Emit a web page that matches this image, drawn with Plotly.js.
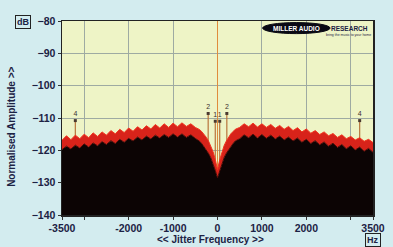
<!DOCTYPE html>
<html>
<head>
<meta charset="utf-8">
<script src="https://cdn.plot.ly/plotly-3.0.1.min.js"></script>
<style>html,body{margin:0;padding:0;background:#d3ecef;}#chart{width:393px;height:247px;}</style>
</head>
<body>
<div id="chart"></div>
<script>
// Jitter spectrum (frequency offset from carrier, Hz)
const freqHz = [-3500,-3400,-3300,-3200,-3100,-3000,-2900,-2800,-2700,-2600,-2500,-2400,-2300,-2200,-2100,-2000,-1900,-1800,-1700,-1600,-1500,-1400,-1300,-1200,-1100,-1000,-900,-800,-700,-600,-500,-400,-350,-300,-250,-200,-150,-100,-50,0,50,100,150,200,250,300,350,400,500,600,700,800,900,1000,1100,1200,1300,1400,1500,1600,1700,1800,1900,2000,2100,2200,2300,2400,2500,2600,2700,2800,2900,3000,3100,3200,3300,3400,3500];
// upper (red) edge of the noise floor, dB
const noisePeakDb = [-116.9,-115.5,-116.7,-115.3,-116.4,-115.0,-116.1,-114.6,-115.7,-114.3,-115.3,-113.9,-114.9,-113.5,-114.5,-113.1,-114.1,-112.7,-113.7,-112.4,-113.4,-112.0,-113.1,-111.8,-112.9,-111.6,-112.7,-111.5,-112.6,-111.8,-112.9,-113.6,
  -114.3,-115.0,-116.0,-117.2,-118.6,-120.4,-122.8,-126.0,-122.9,-120.5,-118.5,-117.1,-115.9,-114.9,-114.2,-113.5,
  -112.9,-111.8,-112.7,-111.6,-112.8,-111.8,-112.9,-112.0,-113.2,-112.3,-113.5,-112.6,-113.9,-113.0,-114.3,-113.4,-114.7,-113.9,-115.1,-114.3,-115.5,-114.8,-116.0,-115.2,-116.4,-115.7,-116.8,-116.1,-117.2,-116.6,-117.6];
// lower (black) body of the noise floor, dB
const noiseBodyDb = [-119.8,-118.7,-119.6,-118.4,-119.3,-118.0,-119.0,-117.7,-118.6,-117.3,-118.2,-117.0,-117.9,-116.6,-117.5,-116.3,-117.1,-115.9,-116.8,-115.6,-116.5,-115.3,-116.2,-115.1,-116.0,-114.9,-115.9,-114.9,-116.0,-115.2,-116.3,-117.2,
  -118.0,-118.9,-119.9,-121.0,-122.3,-124.0,-126.2,-128.5,-126.3,-124.1,-122.2,-120.9,-119.8,-118.8,-117.9,-117.1,
  -116.4,-115.2,-116.1,-115.0,-116.2,-115.1,-116.3,-115.3,-116.5,-115.6,-116.8,-115.9,-117.1,-116.2,-117.5,-116.6,-117.9,-117.0,-118.3,-117.4,-118.7,-117.8,-119.1,-118.2,-119.5,-118.6,-119.9,-119.0,-120.3,-119.4,-120.6];
// discrete jitter sidebands
const spikeHz = [-3200,-210,-50,50,210,3200];
const spikeDb = [-110.8,-108.6,-111.0,-111.0,-108.6,-110.8];
const spikeLabels = ['4','2','1','1','2','4'];
// axis ticks
const xTickVals = [-3500,-2000,-1000,0,1000,2000,3500];
const xTickText = ['-3500','-2000','-1000','0','1000','2000','3500'];
const yTickVals = [-140,-130,-120,-110,-100,-90,-80];

const Y_MIN = -140, Y_MAX = -80;
const navy = '#1c2244';
const fontFam = 'Liberation Sans, Arial, sans-serif';

const spX = [], spY = [];
spikeHz.forEach((f,i)=>{ spX.push(f,f,null); spY.push(Y_MIN, spikeDb[i], null); });

const traces = [
  {x: spX, y: spY, mode:'lines', line:{color:'#b8743c', width:1.2}, hoverinfo:'skip', showlegend:false},
  {x: freqHz, y: freqHz.map(()=>Y_MIN), mode:'lines', line:{width:0}, hoverinfo:'skip', showlegend:false},
  {x: freqHz, y: noiseBodyDb, mode:'lines', fill:'tonexty', fillcolor:'#0c0404', line:{color:'#4a0a06', width:1}, showlegend:false},
  {x: freqHz, y: noisePeakDb, mode:'lines', fill:'tonexty', fillcolor:'#d8231a', line:{color:'#f0341f', width:1}, showlegend:false},
  {x: spikeHz, y: spikeDb, mode:'markers+text', text: spikeLabels, textposition:'top center',
   textfont:{family:fontFam, size:7, color:'#3a3030'}, marker:{symbol:'square', size:3, color:'#4a3a30'}, showlegend:false, cliponaxis:false}
];

const layout = {
  width:393, height:247,
  margin:{l:62, r:20, t:21, b:32},
  paper_bgcolor:'#d3ecef',
  plot_bgcolor:'#eef4c6',
  font:{family:fontFam, color:navy},
  showlegend:false,
  xaxis:{
    range:[-3500,3500], tickmode:'array', tickvals:xTickVals, ticktext:xTickText,
    tickfont:{family:fontFam, size:10.5, color:navy, weight:'bold'},
    ticks:'outside', ticklen:3, tickcolor:'#333',
    showgrid:true, gridcolor:'#9eaaa2', gridwidth:1,
    minor:{tickvals:[-3000,3000], showgrid:true, gridcolor:'#9eaaa2', ticks:'outside', ticklen:3, tickcolor:'#333'},
    zeroline:true, zerolinecolor:'#e08c3c', zerolinewidth:1.2,
    showline:true, mirror:true, linecolor:'#222', linewidth:1.5
  },
  yaxis:{
    range:[Y_MIN,Y_MAX], tickmode:'array', tickvals:yTickVals,
    tickfont:{family:fontFam, size:10.5, color:navy, weight:'bold'},
    ticks:'outside', ticklen:3, tickcolor:'#333',
    showgrid:true, gridcolor:'#9eaaa2', gridwidth:1, zeroline:false,
    showline:true, mirror:true, linecolor:'#222', linewidth:1.5
  },
  shapes:[
    {type:'circle', xref:'paper', yref:'paper', x0:0.645, x1:0.862, y0:0.935, y1:0.992, fillcolor:'#0a0a14', line:{color:'#0a0a14', width:1}}
  ],
  annotations:[
    {xref:'paper', yref:'paper', x:0.476, y:-0.128, xanchor:'center', yanchor:'middle', text:'<< Jitter Frequency >>', showarrow:false, font:{family:fontFam, size:10, color:navy, weight:'bold'}},
    {xref:'paper', yref:'paper', x:-0.161, y:0.454, xanchor:'center', yanchor:'middle', textangle:-90, text:'Normalised Amplitude >>', showarrow:false, font:{family:fontFam, size:10, color:navy, weight:'bold'}},
    {xref:'paper', yref:'paper', x:0.753, y:0.963, xanchor:'center', yanchor:'middle', text:'MILLER AUDIO', showarrow:false, font:{family:fontFam, size:6.5, color:'#ffffff', weight:'bold'}},
    {xref:'paper', yref:'paper', x:0.925, y:0.963, xanchor:'center', yanchor:'middle', text:'RESEARCH', showarrow:false, font:{family:fontFam, size:6.5, color:navy, weight:'bold'}},
    {xref:'paper', yref:'paper', x:0.92, y:0.927, xanchor:'center', yanchor:'middle', text:'bring the music to your home', showarrow:false, font:{family:fontFam, size:3.5, color:navy}},
    {xref:'paper', yref:'paper', x:-0.125, y:0.995, xanchor:'center', yanchor:'middle', text:'dB', showarrow:false, bordercolor:'#222', borderwidth:1, borderpad:1, bgcolor:'#d3ecef', font:{family:fontFam, size:9, color:navy, weight:'bold'}},
    {xref:'paper', yref:'paper', x:1.0, y:-0.129, xanchor:'center', yanchor:'middle', text:'Hz', showarrow:false, bordercolor:'#222', borderwidth:1, borderpad:1, bgcolor:'#d3ecef', font:{family:fontFam, size:9, color:navy, weight:'bold'}}
  ]
};

Plotly.newPlot('chart', traces, layout, {staticPlot:true, displayModeBar:false});
</script>
</body>
</html>
